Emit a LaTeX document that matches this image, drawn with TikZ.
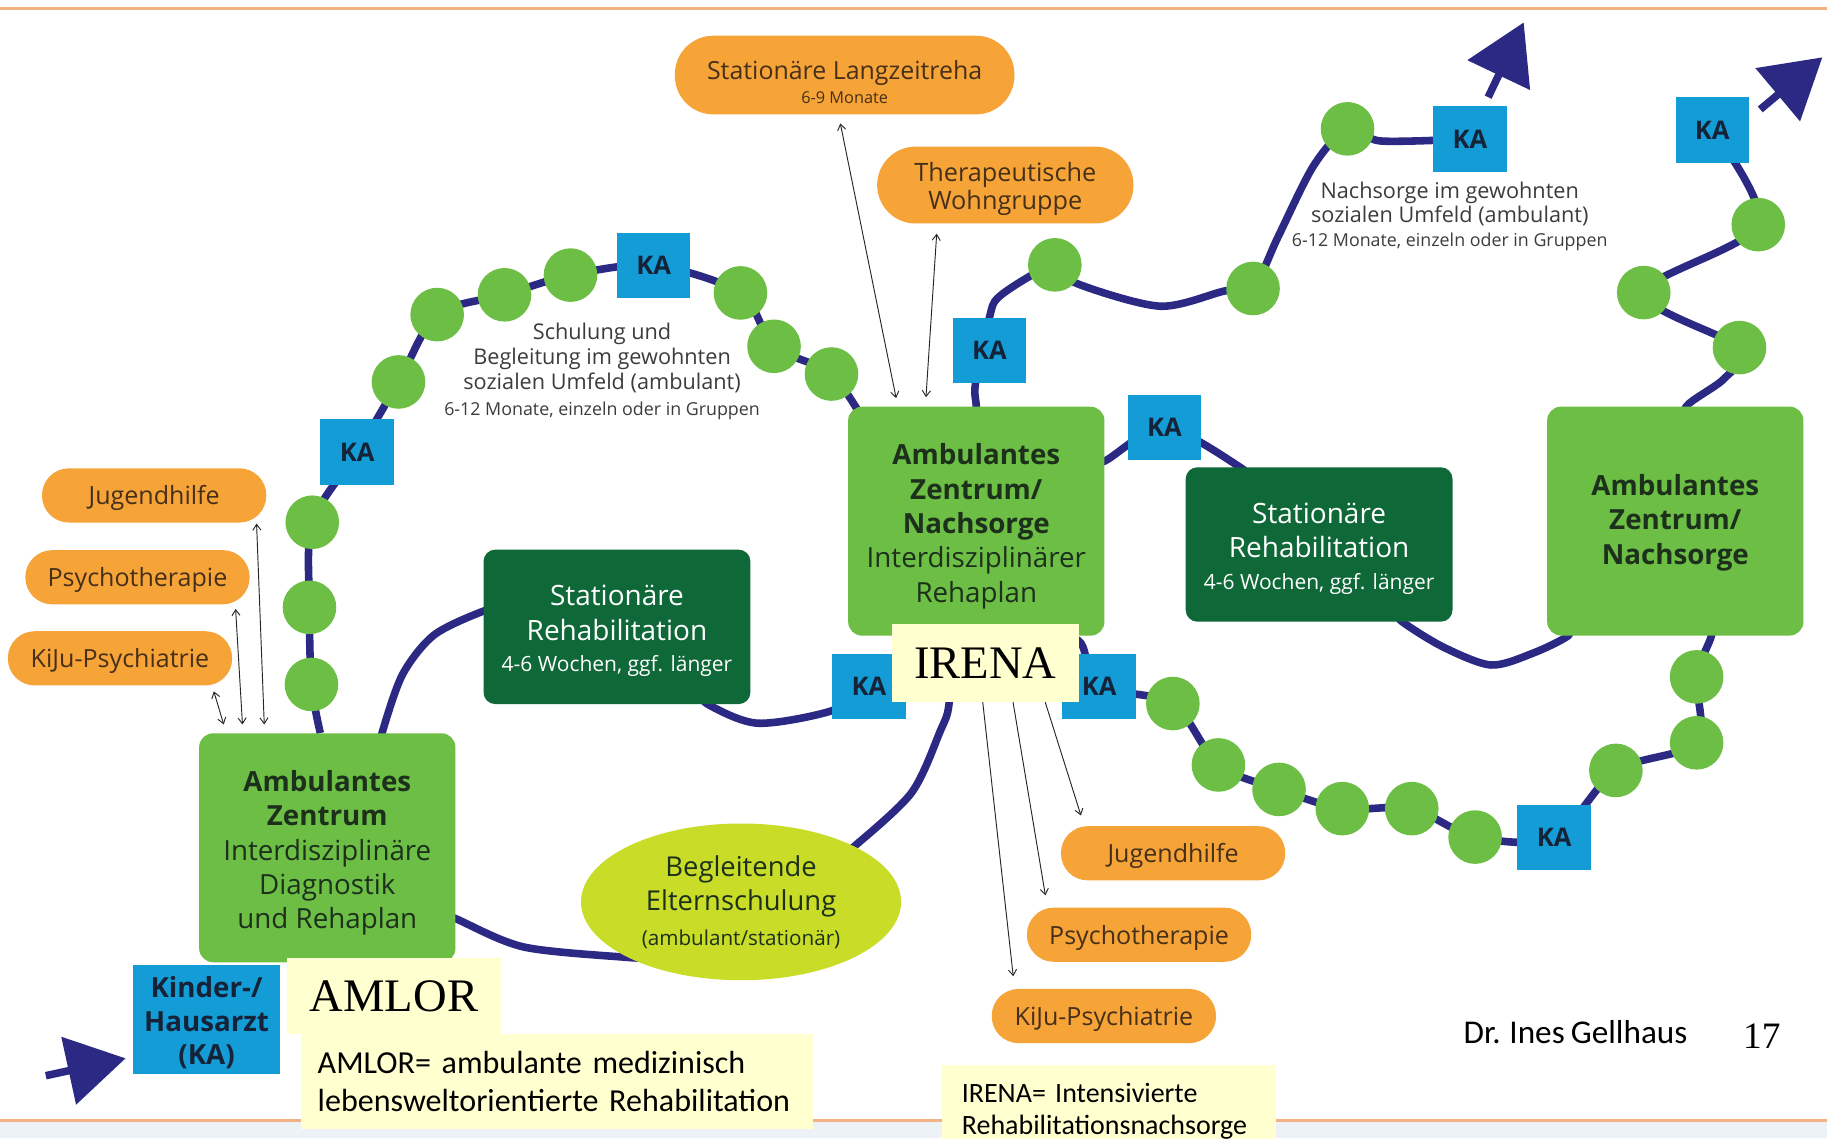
\documentclass[tikz,border=0pt]{standalone}
\usepackage{fontspec}
\setmainfont{Open Sans}
\newfontfamily\notefont[WordSpace=0.82]{Carlito}
\newfontfamily\titlefont{Liberation Serif}
\usetikzlibrary{arrows.meta,shapes.geometric}
\pgfdeclarelayer{background}
\pgfsetlayers{background,main}
\newcommand\fsz[2]{\fontsize{#1}{#2}\selectfont}
\newcommand\lift[1]{\rule{0pt}{#1}}
\definecolor{trackblue}{RGB}{43,41,132}
\definecolor{leaf}{RGB}{108,190,69}
\definecolor{forest}{RGB}{14,104,56}
\definecolor{kablue}{RGB}{20,156,214}
\definecolor{amber}{RGB}{246,163,56}
\definecolor{lime}{RGB}{200,220,40}
\definecolor{notepad}{RGB}{255,255,208}
\definecolor{peach}{RGB}{244,177,131}
\definecolor{mist}{RGB}{237,242,246}
\definecolor{darktext}{RGB}{28,48,28}
\definecolor{katext}{RGB}{20,35,55}
\definecolor{pilltext}{RGB}{70,48,25}
\definecolor{greytext}{RGB}{60,60,60}
\tikzset{>={Straight Barb[length=5pt,width=7pt]}}

\begin{document}
\begin{tikzpicture}[x=1pt,y=-1pt,
    track/.style={draw=trackblue,line width=6.5pt},
    exit/.style={track,-{Triangle[length=50pt,width=58pt]}},
    rule/.style={draw=peach,line width=2.5pt},
    dot/.style={circle,fill=leaf,minimum size=46pt,inner sep=0pt},
    ka/.style={fill=kablue,minimum width=63pt,minimum height=56pt,inner sep=0pt,
      text=katext,font=\bfseries\fsz{22}{22}},
    centre/.style={fill=leaf,rounded corners=12pt,minimum width=220pt,minimum height=196.5pt,
      inner sep=0pt,align=center,text=darktext,font=\fsz{23.8}{29.5}},
    clinic/.style={fill=forest,rounded corners=10pt,minimum width=229pt,minimum height=132.5pt,
      inner sep=0pt,align=center,text=white,font=\fsz{24}{30}},
    pill/.style={fill=amber,rounded corners=23pt,minimum width=192.5pt,minimum height=46.5pt,
      inner sep=0pt,text=pilltext,font=\fsz{21.5}{25}},
    tag/.style={pill,text height=16.4pt,text depth=0pt},
    link/.style={draw=black!85,line width=0.8pt},
    note/.style={fill=notepad,inner sep=0pt},
    caption/.style={text=greytext,align=center,font=\fsz{18.6}{21.8}}
  ]
  \useasboundingbox (0,0) rectangle (1568,977);

  \node[centre] (zentrumL) at (280.9,727.6)
    {\lift{27pt}\textbf{Ambulantes}\\\textbf{Zentrum}\\Interdisziplinäre\\Diagnostik\\und Rehaplan};
  \node[centre] (nachsorgeM) at (837.9,447.3)
    {\lift{27pt}\textbf{Ambulantes}\\\textbf{Zentrum/}\\\textbf{Nachsorge}\\Interdisziplinärer\\Rehaplan};
  \node[centre] (nachsorgeR) at (1437.8,447.2)
    {\lift{21pt}\textbf{Ambulantes}\\\textbf{Zentrum/}\\\textbf{Nachsorge}};

  \node[clinic] (rehaL) at (529.5,538)
    {\lift{24.5pt}Stationäre\\Rehabilitation\\[-3pt]{\fsz{18}{20}4-6 Wochen, ggf. länger}};
  \node[clinic] (rehaR) at (1132.1,467.3)
    {\lift{24.5pt}Stationäre\\Rehabilitation\\[-3pt]{\fsz{18}{20}4-6 Wochen, ggf. länger}};

  \node[ellipse,fill=lime,minimum width=274.7pt,minimum height=134.5pt,inner sep=0pt,
    align=center,text=darktext,font=\fsz{23.5}{29.5}] (eltern) at (636,774)
    {Begleitende\\Elternschulung\\{\fsz{17.7}{20}(ambulant/stationär)}};

  \node[ka,minimum width=126pt,minimum height=93.6pt,align=center,
    font=\bfseries\fsz{23.8}{29}] (hausarzt) at (177.3,874.6) {\lift{24.3pt}Kinder-/\\Hausarzt\\(KA)};
  \node[ka] (kaA) at (561,227.6) {KA};
  \node[ka] (kaB) at (306.5,388) {KA};
  \node[ka] (kaC) at (849.2,300.6) {KA};
  \node[ka] (kaD) at (999.4,366.9) {KA};
  \node[ka] (kaE) at (1261.5,119.2) {KA};
  \node[ka] (kaF) at (1469.5,111.6) {KA};
  \node[ka] (kaG) at (745.8,588.9) {KA};
  \node[ka] (kaH) at (943.3,589) {KA};
  \node[ka] (kaI) at (1333.8,718.7) {KA};

  \node[dot] (s1) at (267.3,587.4) {};
  \node[dot] (s2) at (265.6,521.2) {};
  \node[dot] (s3) at (268,448.2) {};
  \node[dot] (s4) at (342,327.8) {};
  \node[dot] (s5) at (375.2,270) {};
  \node[dot] (s6) at (433,253) {};
  \node[dot] (s7) at (489.6,236.1) {};
  \node[dot] (s8) at (635.5,251.4) {};
  \node[dot] (s9) at (664.3,297.2) {};
  \node[dot] (s10) at (713.6,321) {};
  \node[dot] (n1) at (905.3,227.3) {};
  \node[dot] (n2) at (1075.4,247.6) {};
  \node[dot] (n3) at (1156.5,110.6) {};
  \node[dot] (r1) at (1509,192.8) {};
  \node[dot] (r2) at (1410.7,251.1) {};
  \node[dot] (r3) at (1492.9,298.3) {};
  \node[dot] (b1) at (1006.6,603.8) {};
  \node[dot] (b2) at (1045.7,656.5) {};
  \node[dot] (b3) at (1097.7,677.5) {};
  \node[dot] (b4) at (1152,694) {};
  \node[dot] (b5) at (1211.6,694) {};
  \node[dot] (b6) at (1266,718.4) {};
  \node[dot] (b7) at (1386.8,661.2) {};
  \node[dot] (b8) at (1456.1,637.5) {};
  \node[dot] (b9) at (1456.1,580.9) {};

  \node[pill,minimum width=291.4pt,minimum height=67.5pt,rounded corners=33pt,align=center,
    font=\fsz{21.4}{25}] (langzeit) at (724.9,64.4)
    {\lift{28pt}Stationäre Langzeitreha\\[-4pt]{\fsz{14}{14}6-9 Monate}};
  \node[pill,minimum width=220pt,minimum height=66pt,rounded corners=33pt,align=center,
    font=\fsz{21.7}{24.5}] (wohngruppe) at (862.8,158.8) {\lift{23.5pt}Therapeutische\\Wohngruppe};
  \node[tag] (jugendL) at (132.3,425.2) {Jugendhilfe};
  \node[tag] (psychoL) at (118,495.4) {Psychotherapie};
  \node[tag] (kijuL) at (103,565) {KiJu-Psychiatrie};
  \node[tag] (jugendR) at (1006.8,732.3) {Jugendhilfe};
  \node[tag] (psychoR) at (977.6,802.2) {Psychotherapie};
  \node[tag] (kijuR) at (947.4,872) {KiJu-Psychiatrie};

  \node[caption] (schulung) at (516.7,318.5)
    {Schulung und\\Begleitung im gewohnten\\sozialen Umfeld (ambulant)\\
     {\fsz{15.3}{17}6-12 Monate, einzeln oder in Gruppen}};
  \node[caption,font=\fsz{18.6}{20.5}] (nachsorgetext) at (1244.2,185.5)
    {Nachsorge im gewohnten\\sozialen Umfeld (ambulant)\\
     {\fsz{15.3}{17}6-12 Monate, einzeln oder in Gruppen}};

  \coordinate (exitA) at (1307.7,19.3);
  \coordinate (exitB) at (1564,49.2);
  \coordinate (entry) at (39.3,923.2);

  \begin{pgfonlayer}{background}
    \fill[white] (0,0) rectangle (1568,977);
    \fill[mist] (0,963) rectangle (1568,977);
    \draw[rule] (0,7.6) -- (1568,7.6);
    \draw[rule] (0,962) -- (1568,962);

    \draw[track] plot[smooth] coordinates {([xshift=-6pt]zentrumL.north) (s1) (s2) (s3) (kaB)
      (s4) (s5) (s6) (s7) (kaA) (s8) (s9) (s10) ([xshift=17pt,yshift=-18pt]nachsorgeM.north west)};
    \draw[track] plot[smooth] coordinates {([xshift=47pt,yshift=-10pt]zentrumL.north)
      ([xshift=47pt]zentrumL.north) (345.4,579) (372.5,545) ([yshift=13.5pt]rehaL.west)
      ([xshift=25pt,yshift=19pt]rehaL.west)};
    \draw[track] plot[smooth] coordinates {([xshift=70pt,yshift=12pt]rehaL.south)
      ([xshift=78pt]rehaL.south) (650.4,620.7) ([yshift=-21pt]kaG.west) (kaG)};
    \draw[track] plot[smooth] coordinates {([xshift=-22pt,yshift=10pt]nachsorgeM.south)
      ([xshift=-22pt]nachsorgeM.south) (814.5,604) (806.7,628) (782.2,680.5)
      (eltern.north east) ([xshift=-12pt,yshift=-8pt]eltern.north east)};
    \draw[track] plot[smooth] coordinates {([xshift=-15pt,yshift=-55pt]zentrumL.east)
      ([yshift=-60.8pt]zentrumL.east) (449.3,812.7) (eltern.south west)
      ([xshift=15pt]eltern.south west)};
    \draw[track] plot[smooth] coordinates {([yshift=-20pt]nachsorgeM.north) (nachsorgeM.north)
      ([xshift=-12pt]kaC.south) (kaC.north) (856,256) (881.4,238.5) (n1) (924.6,243.5)
      (995.6,262.8) (1051.5,249.6) (n2) (1097,203) (1127.5,142) (n3) (1185,121) (kaE)};
    \draw[track] plot[smooth] coordinates {([xshift=-18pt,yshift=48pt]nachsorgeM.east)
      ([yshift=51.6pt]nachsorgeM.east) (kaD) ([xshift=-68pt]rehaR.north)
      ([xshift=-55pt,yshift=-15pt]rehaR.north)};
    \draw[track] plot[smooth] coordinates {([xshift=65pt,yshift=10pt]rehaR.south)
      ([xshift=71.5pt]rehaR.south) (1239,555.5) (1279.6,570.7) (1315.3,560.7)
      ([xshift=-92pt]nachsorgeR.south) ([xshift=-88pt,yshift=12pt]nachsorgeR.south)};
    \draw[track] plot[smooth,tension=0.5] coordinates {([xshift=9pt,yshift=-20pt]nachsorgeR.north)
      ([xshift=9.4pt]nachsorgeR.north) (1480,324.7) (r3) (r2) (r1) (kaF)};
    \draw[track] plot[smooth] coordinates {([xshift=68pt,yshift=5pt]nachsorgeM.south)
      ([xshift=89.8pt,yshift=-6.2pt]nachsorgeM.south) (kaH) (b1) (b2) (b3) (b4) (b5) (b6)
      (kaI) (b7) (b8) (b9) ([xshift=31pt]nachsorgeR.south) ([xshift=31pt,yshift=15pt]nachsorgeR.south)};

    \draw[exit] ([xshift=15.7pt,yshift=7.6pt]kaE.north) -- (exitA);
    \draw[exit] ([xshift=9.5pt,yshift=17.7pt]kaF.east) -- (exitB);
    \draw[exit] (entry) -- ([xshift=-6.3pt,yshift=-33.7pt]hausarzt.west);
  \end{pgfonlayer}

  \draw[link,<->] ([xshift=-3.7pt,yshift=-7.6pt]langzeit.south) -- ([xshift=41.4pt,yshift=7.2pt]nachsorgeM.north west);
  \draw[link,<->] ([xshift=-58.9pt,yshift=-8.6pt]wohngruppe.south) -- ([xshift=67pt,yshift=8pt]nachsorgeM.north west);
  \draw[link,<->] ([xshift=87.9pt,yshift=-0.7pt]jugendL.south) -- ([xshift=56.1pt,yshift=7.4pt]zentrumL.north west);
  \draw[link,<->] ([xshift=84.2pt,yshift=-3.8pt]psychoL.south) -- ([xshift=37.4pt,yshift=7.4pt]zentrumL.north west);
  \draw[link,<->] ([xshift=80.5pt,yshift=-4.9pt]kijuL.south) -- ([xshift=21.3pt,yshift=7.4pt]zentrumL.north west);
  \draw[link,->] ([xshift=-0.8pt]nachsorgeM.south) -- ([xshift=-77.8pt,yshift=10.7pt]kijuR.north);
  \draw[link,->] ([xshift=22pt]nachsorgeM.south) -- ([xshift=-80.4pt,yshift=10.3pt]psychoR.north);
  \draw[link,->] ([xshift=41.2pt]nachsorgeM.south) -- ([xshift=-79.1pt,yshift=9pt]jugendR.north);

  \node[note,minimum width=160.2pt,minimum height=66.5pt,font=\titlefont\fsz{40}{40}]
    (irena) at (845.6,569) {IRENA};
  \node[note,minimum width=183.6pt,minimum height=65.2pt,font=\titlefont\fsz{40}{40}]
    (amlor) at (338.2,854.9) {AMLOR};
  \node[note,minimum width=439.6pt,minimum height=81.5pt,text width=410pt,align=left,
    font=\notefont\fsz{27.5}{33}] (amlordef) at (477.7,928.3)
    {AMLOR= ambulante medizinisch\\lebensweltorientierte Rehabilitation};
  \node[note,anchor=north west,minimum width=286.6pt,minimum height=80pt,text width=252pt,
    align=left,font=\notefont\fsz{24}{28}] (irenadef) at (808,913.5)
    {IRENA= Intensivierte\\Rehabilitationsnachsorge};

  \node[anchor=west,inner sep=0pt,font=\notefont\fsz{28.5}{30}] (author) at (1256,886) {Dr. Ines Gellhaus};
  \node[inner sep=0pt,font=\titlefont\fsz{32}{32}] (pageno) at (1512,889.6) {17};
\end{tikzpicture}
\end{document}
